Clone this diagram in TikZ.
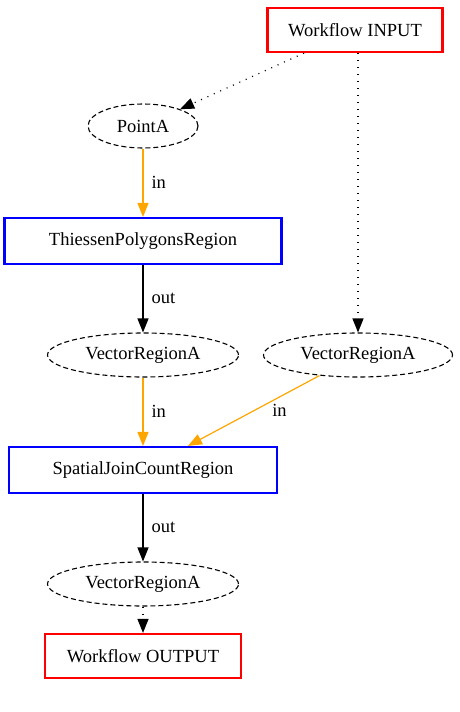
\documentclass[tikz,border=0pt]{standalone}
\usepackage{fontspec}
\setmainfont{Liberation Serif}
\usetikzlibrary{shapes.geometric,arrows.meta}
\definecolor{ioborder}{HTML}{FF0000}
\definecolor{procborder}{HTML}{0000FF}
\definecolor{inedge}{HTML}{FFA500}

\begin{document}
\begin{tikzpicture}[x=1pt, y=-1pt, font=\fontsize{18.5}{21}\selectfont,
    iobox/.style={draw=ioborder, line width=2.2pt, rectangle, minimum height=44pt, inner sep=0pt},
    procbox/.style={draw=procborder, line width=2.2pt, rectangle, minimum height=46pt, inner sep=0pt},
    dataell/.style={draw, line width=1.1pt, dash pattern=on 5pt off 3pt, ellipse, minimum height=44pt, inner sep=0pt},
    flow/.style={-{Triangle[length=14pt,width=11pt]}, line width=1.2pt},
    dots/.style={dash pattern=on 1pt off 6pt},
    lbl/.style={inner sep=0pt, right=8pt}]
  \useasboundingbox (0,0) rectangle (459,712);
  % workflow ends
  \node[iobox, minimum width=175pt] (input) at (355,30) {Workflow INPUT};
  \node[iobox, minimum width=196pt] (output) at (143,656) {Workflow OUTPUT};
  % data
  \node[dataell, minimum width=110pt] (pointa) at (143,126) {PointA};
  \node[dataell, minimum width=191pt] (vra1) at (143,355) {VectorRegionA};
  \node[dataell, minimum width=189pt] (vra2) at (358,355) {VectorRegionA};
  \node[dataell, minimum width=191pt] (vra3) at (143,584) {VectorRegionA};
  % processes
  \node[procbox, minimum width=277pt] (thiessen) at (143,241) {ThiessenPolygonsRegion};
  \node[procbox, minimum width=268pt] (spjoin) at (143,470) {SpatialJoinCountRegion};
  % edges
  \draw[flow, dots] (input) -- (pointa);
  \draw[flow, dots] (input.south -| vra2) -- (vra2);
  \draw[flow, inedge] (pointa) -- (thiessen) node[midway, lbl, text=black] {in};
  \draw[flow] (thiessen) -- (vra1) node[midway, lbl] {out};
  \draw[flow, inedge] (vra1) -- (spjoin) node[midway, lbl, text=black] {in};
  \draw[flow, inedge] (vra2) -- (spjoin) node[midway, inner sep=0pt, right=18pt, text=black] {in};
  \draw[flow] (spjoin) -- (vra3) node[midway, lbl] {out};
  \draw[flow, dots] (vra3) -- (output);
\end{tikzpicture}
\end{document}
